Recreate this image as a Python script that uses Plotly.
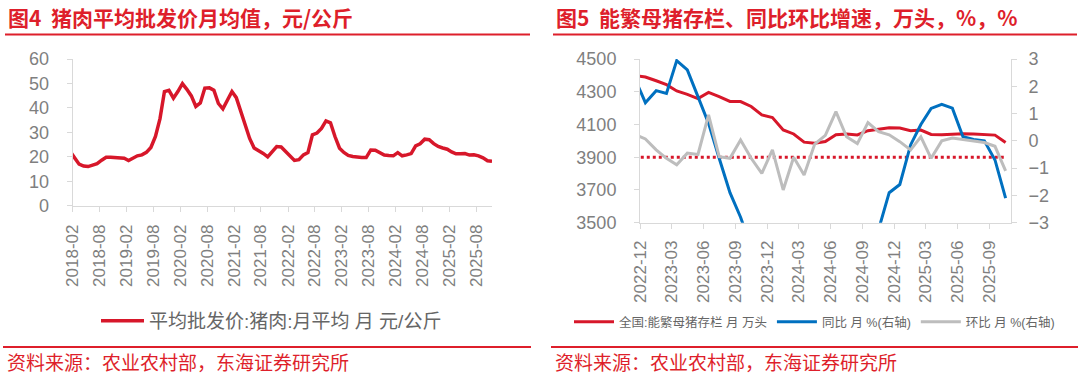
import pandas as pd
import plotly.graph_objects as go

# ---------------- data ----------------
# 猪肉平均批发价 月均值 (元/公斤), monthly from 2018-01
PORK_START = "2018-01-01"
PORK_PRICE = [
    22.0, 19.6, 17.0, 16.2, 16.0, 16.6, 17.2, 18.6, 19.8, 19.8, 19.6, 19.5,   # 2018
    19.4, 18.5, 19.6, 20.4, 20.8, 21.8, 23.8, 28.3, 35.5, 46.7, 47.2, 44.0,   # 2019
    46.8, 49.9, 47.6, 44.9, 40.6, 42.0, 48.1, 48.2, 47.2, 41.8, 39.6, 43.3,   # 2020
    46.7, 44.2, 38.8, 32.8, 27.5, 23.6, 22.6, 21.4, 20.0, 22.0, 24.2, 24.0,   # 2021
    22.2, 20.0, 18.5, 18.8, 20.8, 21.7, 29.0, 29.7, 31.6, 34.7, 33.9, 28.3,   # 2022
    23.5, 21.8, 20.6, 20.1, 19.8, 19.7, 19.7, 22.8, 22.7, 21.5, 20.7, 20.5,   # 2023
    20.4, 21.7, 20.4, 20.8, 21.3, 24.5, 25.3, 27.2, 27.0, 25.4, 24.2, 23.6,   # 2024
    23.1, 22.0, 21.2, 21.2, 21.3, 20.7, 20.8, 20.4, 19.6, 18.4, 18.2,         # 2025
]

# 能繁母猪存栏 (万头) and growth (%), monthly from 2022-11
SOW_START = "2022-11-01"
SOW_STOCK = [
    4400, 4390,
    4367, 4343, 4305, 4284, 4258, 4296, 4270, 4241, 4240, 4210, 4158, 4142,
    4067, 4042, 3992, 3986, 3996, 4038, 4042, 4036, 4062, 4073, 4080, 4078,
    4062, 4066, 4039, 4038, 4042, 4043, 4042, 4038, 4035, 3990,
]
SOW_YOY = [
    2.3, 1.4,
    1.84, 1.74, 2.94, 2.6, 1.62, 0.64, -0.64, -1.9, -2.8, -3.9, -5.0, -5.6,
    -6.9, -6.9, -7.3, -7.0, -6.2, -6.0, -5.3, -4.8, -4.2, -3.25, -1.9, -1.6,
    -0.15, 0.6, 1.19, 1.34, 1.2, 0.15, 0.05, 0.0, -0.7, -2.1,
]
SOW_MOM = [
    0.23, 0.07,
    -0.33, -0.64, -0.88, -0.45, -0.5, 0.95, -0.58, -0.64, 0.03, -0.64, -1.19, -0.33,
    -1.8, -0.6, -1.25, -0.12, 0.2, 1.07, 0.15, -0.1, 0.67, 0.34, 0.22, -0.03,
    -0.33, 0.15, -0.64, 0.0, 0.1, 0.05, 0.0, -0.06, -0.2, -1.1,
]
NORMAL_LEVEL = 3900

NAME_PORK = "平均批发价:猪肉:月平均 月 元/公斤"
NAME_STOCK = "全国:能繁母猪存栏 月 万头"
NAME_YOY = "同比 月 %(右轴)"
NAME_MOM = "环比 月 %(右轴)"

TITLE_L = "图4\u00a0\u00a0猪肉平均批发价月均值，元/公斤"
TITLE_R = "图5\u00a0\u00a0能繁母猪存栏、同比环比增速，万头，%，%"
SOURCE = "资料来源：农业农村部，东海证券研究所"

pork_months = pd.date_range(PORK_START, periods=len(PORK_PRICE), freq="MS")
sow_months = pd.date_range(SOW_START, periods=len(SOW_STOCK), freq="MS")

# ---------------- style ----------------
W, H = 1080, 382
RED = "#D7172A"
TITLE_RED = "#DE1F2B"
BLUE = "#0070C0"
GRAY = "#BDBDBD"
TXT = "#7F7F7F"
LEG = "#666666"
AXC = "#D9D9D9"
FONT = "Liberation Sans, Arial, Noto Sans CJK SC"
CJK = "Noto Sans CJK SC, Liberation Sans"


def px(v):
    return v / W


def py(v):
    return 1 - v / H


fig = go.Figure()

common = dict(mode="lines", xperiod="M1", xperiodalignment="middle")

fig.add_trace(go.Scatter(x=pork_months, y=PORK_PRICE, name=NAME_PORK,
                         xaxis="x", yaxis="y", legend="legend",
                         line=dict(color=RED, width=3.5), **common))
fig.add_trace(go.Scatter(x=sow_months, y=SOW_STOCK, name=NAME_STOCK,
                         xaxis="x2", yaxis="y2", legend="legend2",
                         line=dict(color=RED, width=3), **common))
fig.add_trace(go.Scatter(x=sow_months, y=[NORMAL_LEVEL] * len(sow_months),
                         xaxis="x2", yaxis="y2", showlegend=False,
                         line=dict(color=RED, width=3, dash="dot"), **common))
fig.add_trace(go.Scatter(x=sow_months, y=SOW_YOY, name=NAME_YOY,
                         xaxis="x2", yaxis="y3", legend="legend2",
                         line=dict(color=BLUE, width=3), **common))
fig.add_trace(go.Scatter(x=sow_months, y=SOW_MOM, name=NAME_MOM,
                         xaxis="x2", yaxis="y3", legend="legend2",
                         line=dict(color=GRAY, width=3), **common))

axis_common = dict(showline=True, linecolor=AXC, linewidth=1, ticks="outside",
                   ticklen=5, tickcolor=AXC, showgrid=False, zeroline=False,
                   automargin=False,
                   tickfont=dict(family=FONT, size=17, color=TXT))
yfont = dict(family=FONT, size=18, color=TXT)

fig.update_layout(
    width=W, height=H, autosize=False,
    margin=dict(l=0, r=0, t=0, b=0, autoexpand=False),
    paper_bgcolor="white", plot_bgcolor="white",
    font=dict(family=FONT, color=TXT),
    xaxis=dict(domain=[px(72.7), px(492)], anchor="y", type="date",
               range=["2018-02-01", "2025-11-16"], tick0="2018-02-01",
               dtick="M6", tickformat="%Y-%m", tickangle=-90,
               ticklabelstandoff=6, **axis_common),
    yaxis=dict(domain=[py(205.7), py(59)], anchor="x", range=[0, 60],
               tick0=0, dtick=10, ticklabelstandoff=14,
               **{**axis_common, "tickfont": yfont}),
    xaxis2=dict(domain=[px(640), px(1011)], anchor="y2", type="date",
                range=["2022-12-01", "2025-11-01"], tick0="2022-12-01",
                dtick="M3", tickformat="%Y-%m", tickangle=-90,
                ticklabelstandoff=5, **axis_common),
    yaxis2=dict(domain=[py(222.7), py(59)], anchor="x2", range=[3500, 4500],
                tick0=3500, dtick=200, ticklabelstandoff=14,
                **{**axis_common, "tickfont": yfont}),
    yaxis3=dict(overlaying="y2", side="right", anchor="x2", range=[-3, 3],
                tick0=-3, dtick=1, ticklabelstandoff=8,
                **{**axis_common, "tickfont": yfont}),
    legend=dict(orientation="h", x=px(96), y=py(321), xanchor="left",
                yanchor="middle", bgcolor="rgba(0,0,0,0)", itemwidth=43,
                font=dict(family=FONT, size=19, color=LEG)),
    legend2=dict(orientation="h", x=px(569), y=py(322), xanchor="left",
                 yanchor="middle", bgcolor="rgba(0,0,0,0)", itemwidth=40,
                 font=dict(family=FONT, size=12.5, color=LEG)),
    showlegend=True,
)

# titles, rules and source notes
for x0, x1, title in [(5, 530, TITLE_L), (553, 1077, TITLE_R)]:
    fig.add_annotation(x=px(x0 + 1), y=py(17), xref="paper", yref="paper",
                       text="<b>" + title + "</b>", showarrow=False,
                       xanchor="left", yanchor="middle",
                       font=dict(family=CJK, size=21, color=TITLE_RED))
    fig.add_shape(type="line", xref="paper", yref="paper",
                  x0=px(x0), x1=px(x1), y0=py(34.5), y1=py(34.5),
                  line=dict(color=TITLE_RED, width=2))
    fig.add_shape(type="line", xref="paper", yref="paper",
                  x0=px(x0 - 2), x1=px(x1 + 1), y0=py(347), y1=py(347),
                  line=dict(color=TITLE_RED, width=2))
    fig.add_annotation(x=px(x0), y=py(361), xref="paper", yref="paper",
                       text=SOURCE, showarrow=False,
                       xanchor="left", yanchor="middle",
                       font=dict(family=CJK, size=19, color=TITLE_RED))

fig.write_html(
    "out.html",
    config={"displayModeBar": False},
    post_script="document.body.style.margin='0';document.body.style.padding='0';"
                "document.documentElement.style.overflow='hidden';",
)
